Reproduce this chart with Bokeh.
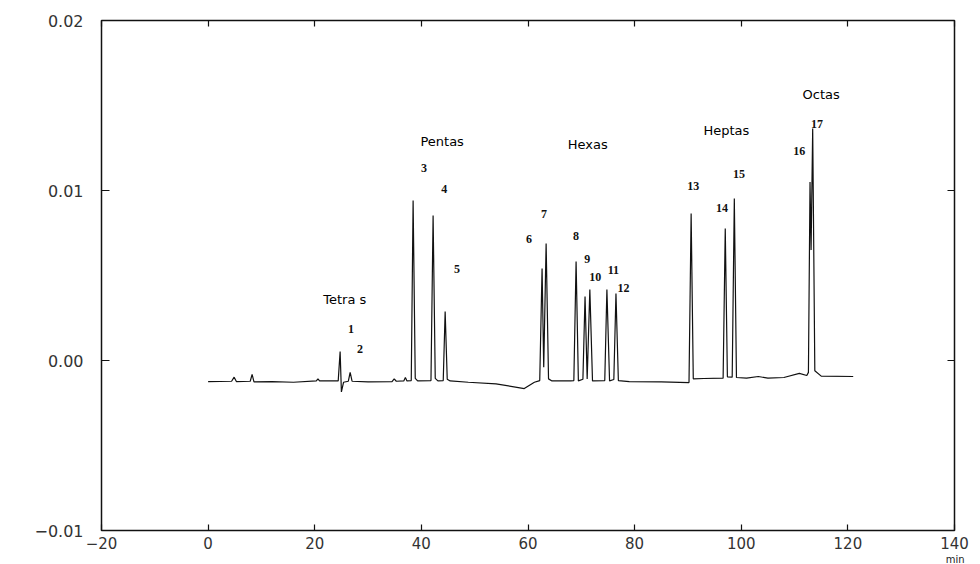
from bokeh.plotting import figure
from bokeh.models import FixedTicker, LinearAxis, Title, ColumnDataSource, CustomJSTickFormatter
from bokeh.embed import file_html
from bokeh.resources import INLINE
from bokeh.core.properties import value

# ---- data ----
trace_t = [0, 4.4, 4.88, 5.3, 7.9, 8.25, 8.6, 12, 16, 20.3, 20.6, 20.9, 24.4, 24.76, 25.0, 25.4,
           26.3, 26.64, 27.0, 30, 34.5, 34.9, 35.3, 36.7, 37.0, 37.3, 38.1, 38.45, 38.85, 39.3,
           41.8, 42.2, 42.6, 43.1, 44.1, 44.46, 44.85, 45.4, 48.8, 54, 59.3, 61.2, 62.2, 62.64,
           62.95, 63.4, 63.85, 64.5, 68.0, 68.6, 69.02, 69.45, 70.3, 70.7, 71.1, 71.6, 72.1,
           74.4, 74.8, 75.3, 76.1, 76.5, 76.95, 79, 85, 90.2, 90.6, 91.0, 93, 96.6, 97.0, 97.4,
           98.3, 98.7, 99.1, 101, 103.2, 105, 108, 110.9, 112.3, 112.6, 112.9, 113.1, 113.4,
           113.8, 115, 121]
trace_au = [-0.00124, -0.00122, -0.00098, -0.00124, -0.00122, -0.00082, -0.00126, -0.00124,
            -0.00128, -0.0012, -0.00108, -0.0012, -0.0012, 0.00053, -0.00185, -0.00128,
            -0.00122, -0.0007, -0.00122, -0.00126, -0.00124, -0.00108, -0.00122, -0.0012,
            -0.001, -0.0012, -0.00118, 0.00941, -0.00105, -0.0012,
            -0.00118, 0.00853, -0.00105, -0.0012, -0.00118, 0.00288, -0.0011, -0.0012,
            -0.00128, -0.00138, -0.00165, -0.00128, -0.00118, 0.00541,
            -0.0004, 0.00688, -0.00108, -0.0012, -0.0012, -0.00118, 0.00582, -0.0012,
            -0.0011, 0.00376, -0.00108, 0.00418, -0.0012,
            -0.00118, 0.00418, -0.0012, -0.00112, 0.00394, -0.00118, -0.00124, -0.00126,
            -0.0013, 0.00865, -0.00108, -0.00106, -0.00104, 0.00776, -0.00096,
            -0.00098, 0.00953, -0.001, -0.00104, -0.00094, -0.00104, -0.001, -0.00076,
            -0.00088, -0.0007, 0.0105, 0.0065, 0.01365,
            -0.0006, -0.00092, -0.00094]

peak_labels = ["1", "2", "3", "4", "5", "6", "7", "8", "9", "10", "11", "12",
               "13", "14", "15", "16", "17"]
peak_label_t = [26.8, 28.5, 40.5, 44.3, 46.7, 60.2, 63.0, 69.0, 71.1, 72.6, 76.0, 77.9,
                91.0, 96.4, 99.6, 110.9, 114.2]
peak_label_au = [0.00188, 0.00065, 0.01135, 0.01006, 0.00541, 0.00712, 0.00859, 0.00735,
                 0.00600, 0.00494, 0.00535, 0.00429, 0.01024, 0.00900, 0.01100, 0.01235,
                 0.01394]

group_labels = ["Pentas", "Hexas", "Heptas", "Octas"]
group_label_t = [43.9, 71.2, 97.2, 115.0]
group_label_au = [0.01288, 0.0127, 0.01353, 0.01565]
tetra_label = "Tetra    s"
tetra_t = 21.6
tetra_au = 0.00359

x_ticks = [-20, 0, 20, 40, 60, 80, 100, 120, 140]
x_tick_labels = ["\u221220", "0", "20", "40", "60", "80", "100", "120", "140"]
y_ticks = [-0.01, 0.0, 0.01, 0.02]
y_tick_labels = ["\u22120.01", "0.00", "0.01", "0.02"]
x_unit = "min"

# ---- figure ----
p = figure(width=978, height=564, x_range=(-20, 140), y_range=(-0.01, 0.02),
           output_backend="svg", toolbar_location=None,
           min_border_left=101, min_border_right=24, min_border_top=20, min_border_bottom=20)
p.background_fill_color = "white"
p.border_fill_color = "white"
p.grid.visible = False
p.outline_line_color = "#111111"
p.outline_line_width = 1.5

for ax in p.xaxis:
    ax.ticker = FixedTicker(ticks=x_ticks)
    ax.major_label_overrides = dict(zip(x_ticks, x_tick_labels))
    ax.major_tick_in = 6
    ax.major_tick_out = 0
    ax.minor_tick_line_color = None
    ax.axis_line_color = None
    ax.major_tick_line_color = "#111111"
    ax.major_tick_line_width = 1.2
    ax.major_label_standoff = 6
    ax.major_label_text_font = "DejaVu Sans"
    ax.major_label_text_font_size = "15px"
    ax.major_label_text_color = "#333333"

for ax in p.yaxis:
    ax.ticker = FixedTicker(ticks=y_ticks)
    ax.major_label_overrides = dict(zip(y_ticks, y_tick_labels))
    ax.major_tick_in = 8
    ax.major_tick_out = 0
    ax.minor_tick_line_color = None
    ax.axis_line_color = None
    ax.major_tick_line_color = "#111111"
    ax.major_tick_line_width = 1.2
    ax.major_label_standoff = 18
    ax.major_label_text_font = "DejaVu Sans"
    ax.major_label_text_font_size = "16px"
    ax.major_label_text_color = "#333333"

blank = CustomJSTickFormatter(code="return ''")
top_ax = LinearAxis(ticker=FixedTicker(ticks=x_ticks), formatter=blank,
                    major_tick_in=6, major_tick_out=0,
                    minor_tick_line_color=None, axis_line_color=None,
                    major_tick_line_color="#111111", major_tick_line_width=1.2,
                    major_label_standoff=0)
right_ax = LinearAxis(ticker=FixedTicker(ticks=y_ticks), formatter=blank,
                      major_tick_in=7, major_tick_out=0,
                      minor_tick_line_color=None, axis_line_color=None,
                      major_tick_line_color="#111111", major_tick_line_width=1.2,
                      major_label_standoff=0)
p.add_layout(top_ax, "above")
p.add_layout(right_ax, "right")

# unit label under the last tick, as a right-aligned title below the x axis
unit_title = Title(text=x_unit, align="right", text_font="DejaVu Sans",
                   text_font_size="10px", text_font_style="normal",
                   text_color="#222222", standoff=0, offset=-10)
p.add_layout(unit_title, "below")

# trace
p.line(trace_t, trace_au, line_color="#111111", line_width=1.2)

# peak numbers
src_pk = ColumnDataSource(dict(x=peak_label_t, y=peak_label_au, t=peak_labels))
p.text(x="x", y="y", text="t", source=src_pk, text_font=value("Liberation Serif"),
       text_font_style="bold", text_font_size="12px", text_align="center",
       text_baseline="middle", text_color="#111111")

# group names
src_gr = ColumnDataSource(dict(x=group_label_t, y=group_label_au, t=group_labels))
p.text(x="x", y="y", text="t", source=src_gr, text_font=value("DejaVu Sans"),
       text_font_size="13px", text_align="center", text_baseline="middle",
       text_color="#000000")
p.text(x=[tetra_t], y=[tetra_au], text=[tetra_label], text_font=value("DejaVu Sans"),
       text_font_size="13px", text_align="left", text_baseline="middle",
       text_color="#000000")

open("out.html", "w").write(file_html(p, INLINE))
